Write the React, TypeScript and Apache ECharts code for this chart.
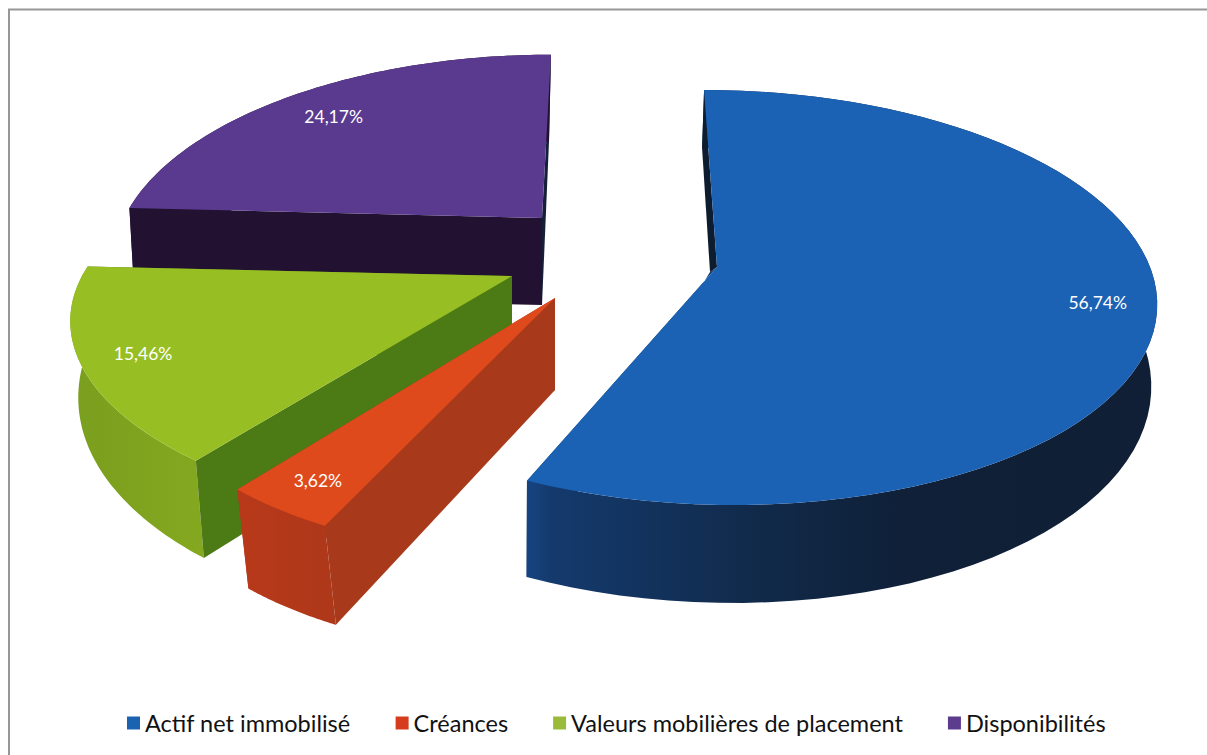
import React, { useEffect, useRef } from "react";
import * as echarts from "echarts";

const categories = ["Actif net immobilisé", "Créances", "Valeurs mobilières de placement", "Disponibilités"];
const shareValues = [56.74, 3.62, 15.46, 24.17];

const FONT = "Lato, 'Open Sans', sans-serif";
const total = shareValues.reduce((a, b) => a + b, 0);

type Look = {
  ax: number; ay: number; rx: number; ry: number; k: number; sh: number;
  da: number; dr: number; dv: number; sa: number; sr: number; su: number;
  z: number; labelR: number; labelTurn: number; labelDx: number; labelDy: number;
  top: string; legend: string; startWall: string; endWall: string; rim: { offset: number; color: string }[];
};

const looks: Look[] = [
  {
    ax: 717, ay: 267, rx: 433, ry: 203, k: 0.147, sh: 0.073,
    da: 5, dr: 78, dv: 20, sa: -7, sr: -2, su: -4,
    z: 4, labelR: 0.87, labelTurn: -3, labelDx: -1, labelDy: 7,
    top: "#1b62b5", legend: "#1b62b0", startWall: "#0e1c30", endWall: "#123a68",
    rim: [
      { offset: 0, color: "#164482" },
      { offset: 0.04, color: "#143a6c" },
      { offset: 0.2, color: "#12325c" },
      { offset: 0.36, color: "#112a4a" },
      { offset: 0.6, color: "#0f2038" },
      { offset: 1, color: "#101f35" },
    ],
  },
  {
    ax: 555, ay: 298, rx: 402, ry: 193, k: 0.25, sh: -0.07,
    da: 92, dr: 99, dv: 0, sa: 0, sr: 11, su: 0,
    z: 3, labelR: 0.85, labelTurn: 0, labelDx: -11, labelDy: 10,
    top: "#df4a1c", legend: "#d63d1f", startWall: "#a83a1b", endWall: "#a83a1b",
    rim: [{ offset: 0, color: "#b8391a" }, { offset: 1, color: "#ae381a" }],
  },
  {
    ax: 512, ay: 276, rx: 430, ry: 186, k: 0.25, sh: 0.05,
    da: 90, dr: 68, dv: 37, sa: 0, sr: 8, su: 0,
    z: 2, labelR: 0.9, labelTurn: 0, labelDx: 15, labelDy: 0,
    top: "#97bf24", legend: "#9abb3a", startWall: "#4c7a14", endWall: "#4c7a14",
    rim: [{ offset: 0, color: "#7a9e1e" }, { offset: 1, color: "#84a81f" }],
  },
  {
    ax: 542, ay: 218, rx: 418, ry: 196, k: 0.2, sh: -0.055,
    da: 87, dr: 87, dv: 0, sa: 0, sr: -2, su: -7,
    z: 1, labelR: 0.75, labelTurn: 0, labelDx: -19, labelDy: -5,
    top: "#5a3a8e", legend: "#5d3b8d", startWall: "#221130", endWall: "#14203a",
    rim: [{ offset: 0, color: "#221130" }, { offset: 1, color: "#221130" }],
  },
];

const STEPS = 72;

function project(l: Look, r: number, deg: number): [number, number] {
  const t = (deg * Math.PI) / 180;
  const u = r * Math.sin(t);
  const v = -r * Math.cos(t);
  const s = 1 / (1 - l.k * v);
  return [l.ax + l.rx * u * s + l.sh * l.ry * v * s, l.ay + l.ry * v * s];
}

function lower(l: Look, r: number, deg: number): [number, number] {
  const t = (deg * Math.PI) / 180;
  const u = r * Math.sin(t);
  const v = -r * Math.cos(t);
  const [x, y] = project(l, r, deg);
  const dy = l.da + (l.dr + l.dv * v - l.da) * r;
  const dx = l.sa + (l.sr + l.su * u - l.sa) * r;
  return [x + dx, y + dy];
}

function sliceItem(index: number) {
  return (_params: any, api: any) => {
    const l = looks[index];
    const value = api.value(0) as number;
    const before = shareValues.slice(0, index).reduce((a, b) => a + b, 0);
    const a0 = (before / total) * 360;
    const a1 = ((before + value) / total) * 360;

    const rimTop: [number, number][] = [];
    const rimLow: [number, number][] = [];
    for (let i = 0; i <= STEPS; i++) {
      const a = a0 + ((a1 - a0) * i) / STEPS;
      rimTop.push(project(l, 1, a));
      rimLow.push(lower(l, 1, a));
    }
    const apex = project(l, 0, a0);
    const apexLow = lower(l, 0, a0);
    const poly = (points: [number, number][], fill: any, z2: number) => ({
      type: "polygon",
      z2,
      silent: true,
      shape: { points },
      style: { fill, stroke: "none" },
    });
    const mid = (a0 + a1) / 2 + l.labelTurn;
    const [lx, ly] = project(l, l.labelR, mid);
    return {
      type: "group",
      children: [
        poly([rimTop[STEPS], rimLow[STEPS], apexLow, apex], l.endWall, 1),
        poly(
          [...rimTop, ...rimLow.slice().reverse()],
          new echarts.graphic.LinearGradient(0, 0, 1, 0, l.rim),
          2,
        ),
        poly([rimTop[0], rimLow[0], apexLow, apex], l.startWall, 3),
        poly([apex, ...rimTop], l.top, 4),
        {
          type: "text",
          z2: 5,
          silent: true,
          x: lx + l.labelDx,
          y: ly + l.labelDy,
          style: {
            text: value.toFixed(2).replace(".", ",") + "%",
            fill: "#ffffff",
            font: `17.5px ${FONT}`,
            textAlign: "center",
            textVerticalAlign: "middle",
          },
        },
      ],
    };
  };
}

export default function App() {
  const ref = useRef<HTMLDivElement>(null);
  useEffect(() => {
    if (!ref.current) return;
    const chart = echarts.init(ref.current, undefined, { renderer: "svg" });
    chart.setOption({
      animation: false,
      backgroundColor: "#ffffff",
      graphic: [
        {
          type: "polyline",
          silent: true,
          shape: { points: [[9, 755], [9, 9.5], [1207, 9.5]] },
          style: { stroke: "#979797", lineWidth: 2, fill: "none" },
        },
      ],
      legend: {
        data: categories,
        left: 127,
        top: 711,
        padding: 0,
        itemWidth: 13,
        itemHeight: 13,
        itemGap: 45,
        icon: "rect",
        selectedMode: false,
        textStyle: { fontFamily: FONT, fontSize: 23.5, color: "#111111" },
      },
      series: categories.map((name, i) => ({
        type: "custom",
        name,
        z: looks[i].z,
        coordinateSystem: "none",
        itemStyle: { color: looks[i].legend },
        renderItem: sliceItem(i),
        data: [[shareValues[i]]],
      })),
    });
    return () => chart.dispose();
  }, []);
  return <div ref={ref} style={{ position: "fixed", left: 0, top: 0, width: 1207, height: 755 }} />;
}
